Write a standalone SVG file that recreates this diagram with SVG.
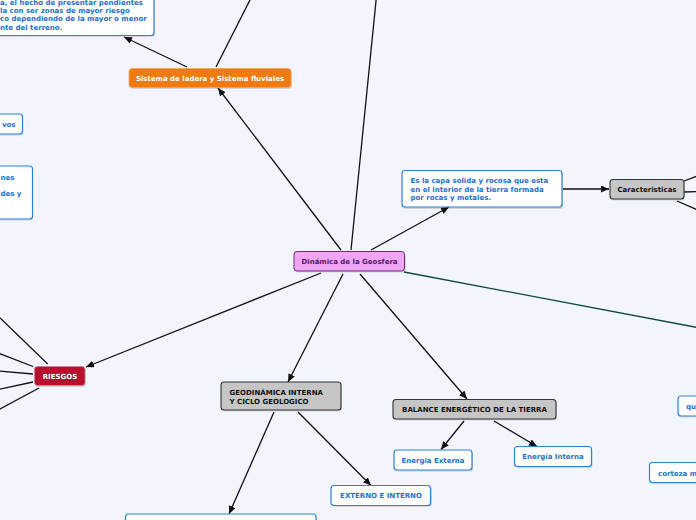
<svg xmlns="http://www.w3.org/2000/svg" width="696" height="520" viewBox="0 0 696 520">
<defs>
<marker id="ah" markerUnits="userSpaceOnUse" markerWidth="9" markerHeight="8" refX="8" refY="3.5" orient="auto">
<path d="M0,0 L8,3.5 L0,7 z" fill="#111"/>
</marker>
<style>
.t{font-family:"DejaVu Sans","Verdana",sans-serif;font-weight:bold;font-size:7px}
.blue{fill:#1e6fd4}
.sh{fill:#000;opacity:0.13}
.bx{fill:#fff;stroke:#2b80e2;stroke-width:1.2}
.gr{fill:#c6c6c6;stroke:#333;stroke-width:1.1}
.c{fill:none;stroke:#111;stroke-width:1.3}
.ca{fill:none;stroke:#111;stroke-width:1.3;marker-end:url(#ah)}
</style>
</defs>
<rect width="696" height="520" fill="#f3f5fe"/>

<g id="connectors">
<line class="ca" x1="187" y1="67" x2="124" y2="37"/>
<line class="c" x1="216" y1="67" x2="253" y2="-6"/>
<line class="ca" x1="341" y1="250" x2="218" y2="88"/>
<line class="c" x1="351" y1="250" x2="376.5" y2="-4"/>
<line class="ca" x1="321" y1="273" x2="86" y2="367"/>
<line class="ca" x1="343" y1="274" x2="288" y2="382"/>
<line class="ca" x1="360" y1="274" x2="467" y2="399"/>
<line class="ca" x1="371" y1="250" x2="449" y2="207"/>
<line x1="404" y1="272" x2="700" y2="328" stroke="#0b4a3c" stroke-width="1.3"/>
<line class="ca" x1="563" y1="189" x2="609" y2="189"/>
<line class="c" x1="684" y1="181" x2="700" y2="175"/>
<line class="c" x1="684" y1="192" x2="700" y2="191.5"/>
<line class="c" x1="677" y1="201" x2="700" y2="211"/>
<line class="c" x1="47.7" y1="364" x2="-2" y2="316"/>
<line class="c" x1="33" y1="366.5" x2="-2" y2="353"/>
<line class="c" x1="33" y1="374" x2="-2" y2="371"/>
<line class="c" x1="33" y1="382" x2="-2" y2="389.5"/>
<line class="c" x1="39" y1="388" x2="-2" y2="410"/>
<line class="ca" x1="274" y1="412" x2="229" y2="514"/>
<line class="ca" x1="298" y1="412" x2="371" y2="485.5"/>
<line class="ca" x1="464" y1="421" x2="441" y2="449.5"/>
<line class="ca" x1="494" y1="421" x2="537" y2="446.5"/>
</g>

<g id="n-ladera-text">
<rect class="sh" x="-9" y="-9" width="164" height="46" rx="3"/>
<rect class="bx" x="-10" y="-10" width="164" height="45.5" rx="3"/>
<text class="t blue" x="0" y="4.5">a, el hecho de presentar pendientes</text>
<text class="t blue" x="0" y="12.5">la con ser zonas de mayor riesgo</text>
<text class="t blue" x="0" y="21">co dependiendo de la mayor o menor</text>
<text class="t blue" x="0" y="29.5">nte del terreno.</text>
</g>

<g id="n-sistema">
<rect class="sh" x="130" y="70" width="162" height="19" rx="3"/>
<rect x="129" y="68.5" width="162" height="19" rx="3" fill="#ef7b10" stroke="#f4a45a" stroke-width="0.8"/>
<text class="t" x="210" y="80.5" text-anchor="middle" fill="#fff">Sistema de ladera y Sistema fluviales</text>
</g>

<g id="n-vos">
<rect class="sh" x="-9" y="115.5" width="32" height="20" rx="3"/>
<rect class="bx" x="-10" y="114" width="32.5" height="20" rx="3"/>
<text class="t blue" x="15.5" y="127" text-anchor="end">vos</text>
</g>

<g id="n-nes">
<rect class="sh" x="-9" y="167.5" width="42" height="53" rx="3"/>
<rect class="bx" x="-10" y="166" width="42.5" height="53" rx="3"/>
<text class="t blue" x="14.5" y="179.5" text-anchor="end">nes</text>
<text class="t blue" x="0.5" y="196">des y</text>
</g>

<g id="n-riesgos">
<rect class="sh" x="35" y="368" width="51" height="19" rx="3"/>
<rect x="34.5" y="366.5" width="50.5" height="19" rx="3" fill="#b5112f" stroke="#d9808f" stroke-width="0.8"/>
<text class="t" x="60" y="379" text-anchor="middle" fill="#fff">RIESGOS</text>
</g>

<g id="n-center">
<rect class="sh" x="295" y="253" width="111" height="19.5" rx="3"/>
<rect x="294" y="251.5" width="110.5" height="19.5" rx="3" fill="#f0a6f6" stroke="#6e2a74" stroke-width="1"/>
<text class="t" x="349.5" y="264" text-anchor="middle" fill="#5a1662">Dinámica de la Geosfera</text>
</g>

<g id="n-capa">
<rect class="sh" x="403" y="172" width="160" height="37" rx="3"/>
<rect class="bx" x="402" y="170.5" width="160" height="36.5" rx="3"/>
<text class="t blue" x="410.5" y="183">Es la capa solida y rocosa que esta</text>
<text class="t blue" x="410.5" y="191.5">en el interior de la tierra formada</text>
<text class="t blue" x="410.5" y="200">por rocas y metales.</text>
</g>

<g id="n-caract">
<rect class="sh" x="611" y="180.5" width="74" height="20" rx="3"/>
<rect class="gr" x="610" y="179.5" width="74" height="19.5" rx="3"/>
<text class="t" x="647" y="192" text-anchor="middle" fill="#111">Caracteristicas</text>
</g>

<g id="n-geo">
<rect class="sh" x="222" y="383.5" width="120" height="28" rx="3"/>
<rect class="gr" x="221" y="382" width="120" height="28" rx="3"/>
<text class="t" x="229.5" y="395" fill="#111">GEODINÁMICA INTERNA</text>
<text class="t" x="229.5" y="403.5" fill="#111">Y CICLO GEOLOGICO</text>
</g>

<g id="n-balance">
<rect class="sh" x="394" y="401" width="163" height="19.5" rx="3"/>
<rect class="gr" x="393" y="399.5" width="163" height="19.5" rx="3"/>
<text class="t" x="474.5" y="412" text-anchor="middle" fill="#111">BALANCE ENERGÉTICO DE LA TIERRA</text>
</g>

<g id="n-externo-interno">
<rect class="sh" x="332" y="487" width="100" height="20" rx="3"/>
<rect class="bx" x="331" y="485.5" width="99.5" height="20" rx="3"/>
<text class="t blue" x="381" y="498" text-anchor="middle">EXTERNO E INTERNO</text>
</g>

<g id="n-bottom">
<rect class="sh" x="126" y="515.5" width="191" height="20" rx="3"/>
<rect class="bx" x="125.5" y="514" width="190.5" height="20" rx="3"/>
</g>

<g id="n-energia-externa">
<rect class="sh" x="395" y="451.5" width="78" height="20" rx="3"/>
<rect class="bx" x="394" y="450" width="78" height="20" rx="3"/>
<text class="t blue" x="433" y="462.5" text-anchor="middle">Energia Externa</text>
</g>

<g id="n-energia-interna">
<rect class="sh" x="515.5" y="448" width="77" height="20" rx="3"/>
<rect class="bx" x="514.5" y="446.5" width="77" height="20" rx="3"/>
<text class="t blue" x="553" y="459" text-anchor="middle">Energía Interna</text>
</g>

<g id="n-qu">
<rect class="sh" x="679" y="397.5" width="30" height="20" rx="3"/>
<rect class="bx" x="678" y="396" width="30" height="20" rx="3"/>
<text class="t blue" x="686" y="409">qu</text>
</g>

<g id="n-corteza">
<rect class="sh" x="650.5" y="464" width="60" height="20" rx="3"/>
<rect class="bx" x="649.5" y="462.5" width="60" height="20" rx="3"/>
<text class="t blue" x="658" y="475.5">corteza m</text>
</g>
</svg>
